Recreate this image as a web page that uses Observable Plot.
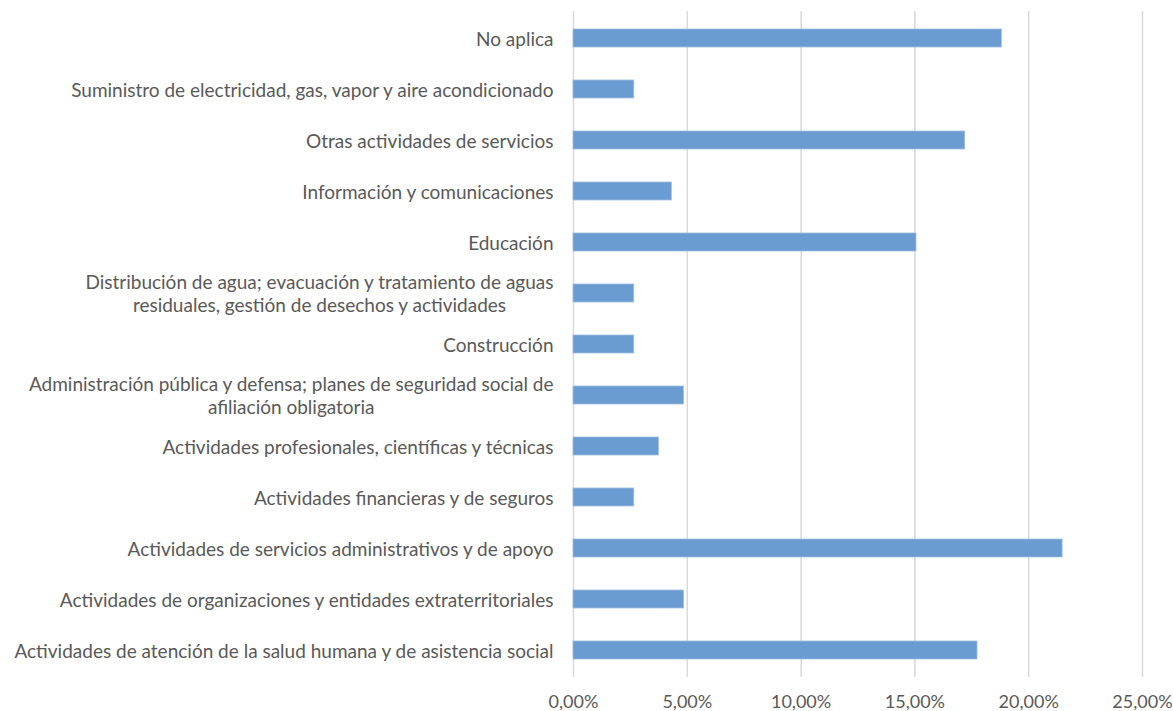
<!DOCTYPE html>
<html>
<head>
<meta charset="utf-8">
<script src="https://cdn.jsdelivr.net/npm/d3@7"></script>
<script src="https://cdn.jsdelivr.net/npm/@observablehq/plot@0.6"></script>
<style>
  html, body { margin: 0; padding: 0; background: #fff; }
  #chart { width: 1173px; height: 711px; }
</style>
</head>
<body>
<div id="chart"></div>
<script>
const categories = [
  "No aplica",
  "Suministro de electricidad, gas, vapor y aire acondicionado",
  "Otras actividades de servicios",
  "Información y comunicaciones",
  "Educación",
  "Distribución de agua; evacuación y tratamiento de aguas\nresiduales, gestión de desechos y actividades",
  "Construcción",
  "Administración pública y defensa; planes de seguridad social de\nafiliación obligatoria",
  "Actividades profesionales, científicas y técnicas",
  "Actividades financieras y de seguros",
  "Actividades de servicios administrativos y de apoyo",
  "Actividades de organizaciones y entidades extraterritoriales",
  "Actividades de atención de la salud humana y de asistencia social"
];
const values = [0.1882, 0.0267, 0.1721, 0.0432, 0.1507, 0.0267, 0.0267, 0.0485, 0.0375, 0.0267, 0.2149, 0.0485, 0.1775];
const xTicks = [0, 0.05, 0.10, 0.15, 0.20, 0.25];

const data = categories.map((c, i) => ({category: c, value: values[i]}));
const fmt = d => (d * 100).toFixed(2).replace(".", ",") + "%";

const FONT = "Lato, 'Open Sans', sans-serif";
const chart = Plot.plot({
  width: 1173,
  height: 711,
  marginLeft: 573,
  marginRight: 31,
  marginTop: 11,
  marginBottom: 34,
  style: {fontFamily: FONT, fontSize: "19px", color: "#595959", background: "#fff"},
  x: {domain: [0, 0.25], ticks: xTicks, tickFormat: fmt, label: null},
  y: {domain: categories, paddingInner: 0.65, paddingOuter: 0.325, label: null},
  marks: [
    Plot.gridX(xTicks, {stroke: "#d9d9d9", strokeWidth: 1.5, strokeOpacity: 1}),
    Plot.barX(data, {x: "value", y: "category", fill: "#6a9bd1", stroke: "#9dbde3", strokeWidth: 0.8}),
    Plot.axisX(xTicks, {tickSize: 0, tickPadding: 18, tickFormat: fmt, fontSize: 18, fill: "#595959", label: null}),
    Plot.axisY({tickSize: 0, tickPadding: 20, fontSize: 19, fill: "#595959", lineHeight: 1.2, label: null})
  ]
});
document.getElementById("chart").appendChild(chart);

// center-align the lines of multi-line category labels as a block
chart.querySelectorAll("g[aria-label='y-axis tick label'] text").forEach(t => {
  const spans = t.querySelectorAll("tspan");
  if (spans.length > 1) {
    const w = t.getBBox().width;
    t.setAttribute("text-anchor", "middle");
    spans.forEach(s => s.setAttribute("x", -w / 2));
  }
});
</script>
</body>
</html>
